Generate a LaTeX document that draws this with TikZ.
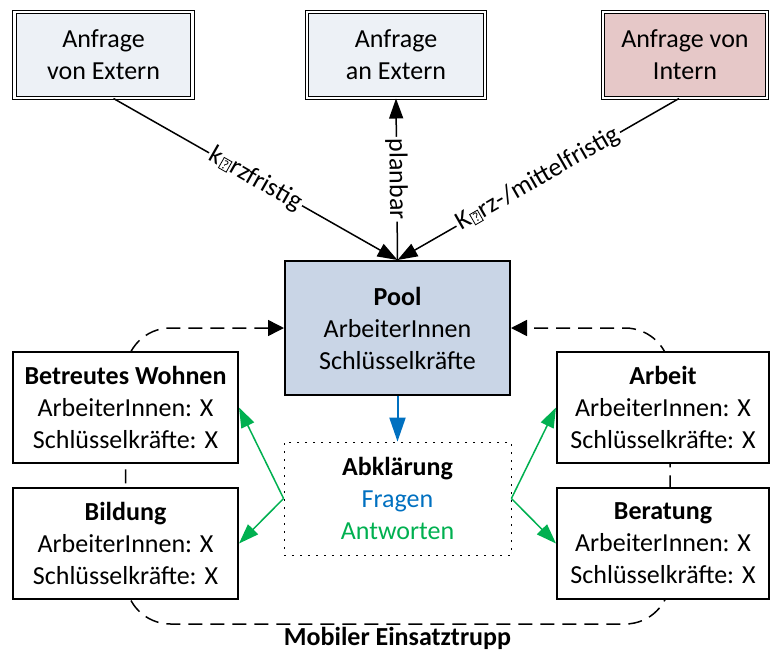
\documentclass[tikz,border=0pt]{standalone}
\usepackage{fontspec}
\setmainfont{Carlito}
\usetikzlibrary{arrows.meta}
\usetikzlibrary{backgrounds}
\definecolor{extfill}{HTML}{EDF1F6}
\definecolor{intfill}{HTML}{E6C8C8}
\definecolor{poolfill}{HTML}{C9D5E6}
\definecolor{fragblau}{HTML}{0070C0}
\definecolor{antwgruen}{HTML}{00B050}
\newcommand\qbox{\kern.6pt{\fboxsep=0.5pt\fboxrule=0.4pt\fbox{\fontsize{6.5}{6.5}\selectfont ?}}\kern.6pt}

\begin{document}
\begin{tikzpicture}[x=.5pt, y=-.5pt, font=\fontsize{13}{16}\selectfont,
    anfrage/.style={draw, double, double distance=1.4pt, line width=.5pt, align=center, minimum width=89pt, minimum height=43pt},
    bereich/.style={draw, line width=1pt, fill=white, align=center, minimum width=112.5pt, minimum height=55.5pt},
    pfeil/.style={line width=.75pt, -{Triangle[length=10pt, width=7pt]}},
    frist/.style={sloped, fill=white, inner sep=1pt}]
    \useasboundingbox (0, 0) rectangle (771, 653);
    \node[anfrage, fill=extfill] (ext) at (103.5, 55) {Anfrage\\von Extern};
    \node[anfrage, fill=extfill] (anext) at (396, 55) {Anfrage\\an Extern};
    \node[anfrage, fill=intfill, minimum width=82pt] (int) at (685, 55) {Anfrage von\\Intern};
    \node[bereich, fill=poolfill, minimum height=67pt] (pool) at (397.5, 328) {\bfseries Pool\\ArbeiterInnen\\Schlüsselkräfte};
    \node[bereich] (bw) at (125.5, 407.5) {\bfseries Betreutes Wohnen\\ArbeiterInnen: X\\Schlüsselkräfte: X};
    \node[bereich] (bild) at (125.5, 543.5) {\bfseries Bildung\\ArbeiterInnen: X\\Schlüsselkräfte: X};
    \node[bereich, minimum width=106pt] (arbeit) at (663, 407.5) {\bfseries Arbeit\\ArbeiterInnen: X\\Schlüsselkräfte: X};
    \node[bereich, minimum width=106pt] (beratung) at (663, 543.5) {\bfseries Beratung\\ArbeiterInnen: X\\Schlüsselkräfte: X};
    \node[draw, dash pattern=on .8pt off 3.2pt, align=center, minimum width=113.5pt, minimum height=56.5pt] (abkl) at (397.5, 498.5)
        {\bfseries Abklärung\\\textcolor{fragblau}{Fragen}\\\textcolor{antwgruen}{Antworten}};
    \node[below, inner sep=1.5pt, font=\fontsize{13}{16}\selectfont\bfseries] (trupp) at (397.5, 624) {Mobiler Einsatztrupp};
    \begin{scope}[on background layer]
        \draw[line width=.75pt, dash pattern=on 7pt off 4pt, rounded corners=22.5pt, {Triangle[length=8pt, width=8pt]}-{Triangle[length=8pt, width=8pt]}]
            (pool.west) -| (bw.center) |- (trupp.north) -| ([xshift=3.5pt]beratung.center) |- (pool.east);
    \end{scope}
    \draw[pfeil] ([xshift=5pt]ext.south) -- node[frist]{k\qbox rzfristig} (pool.north);
    \draw[pfeil] ([xshift=-3pt]int.south) -- node[frist]{K\qbox rz-/mittelfristig} (pool.north);
    \draw[pfeil] (pool.north) -- node[frist]{planbar} (anext.south);
    \draw[fragblau, line width=1pt, -{Triangle[length=12pt, width=8pt]}] (pool.south) -- (abkl.north);
    \draw[antwgruen, line width=.75pt, -{Triangle[length=10pt, width=7pt]}] (abkl.west) -- (bw.east);
    \draw[antwgruen, line width=.75pt, -{Triangle[length=10pt, width=7pt]}] (abkl.west) -- (bild.east);
    \draw[antwgruen, line width=.75pt, -{Triangle[length=10pt, width=7pt]}] (abkl.east) -- (arbeit.west);
    \draw[antwgruen, line width=.75pt, -{Triangle[length=10pt, width=7pt]}] (abkl.east) -- (beratung.west);
\end{tikzpicture}
\end{document}
